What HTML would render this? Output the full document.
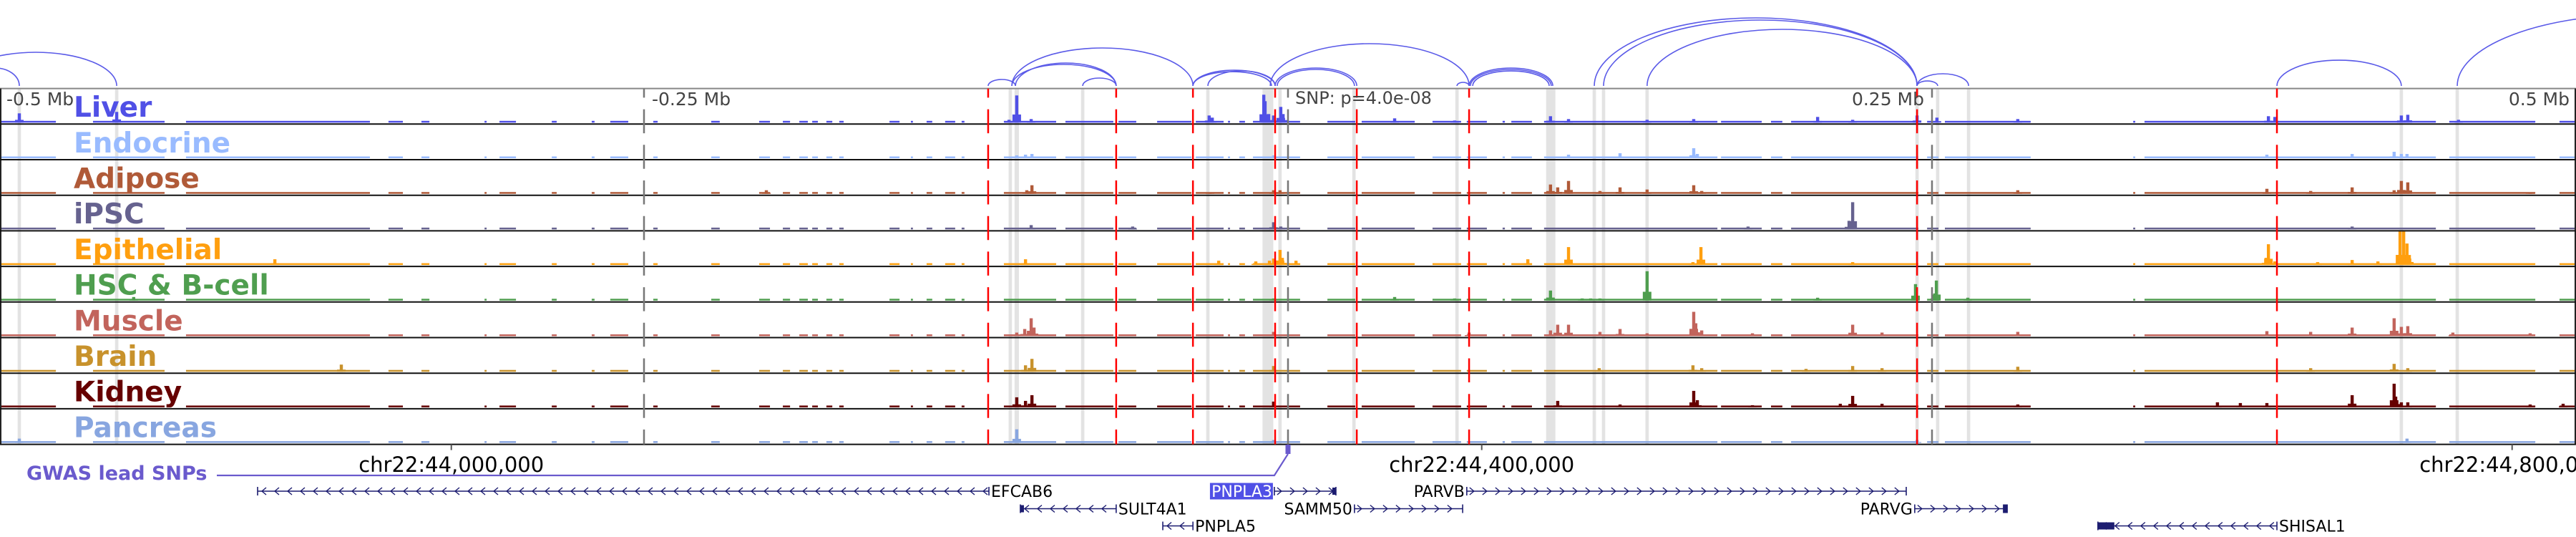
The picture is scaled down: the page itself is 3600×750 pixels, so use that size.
<!DOCTYPE html>
<html><head><meta charset="utf-8"><style>
html,body{margin:0;padding:0;background:#fff;}
svg{display:block;font-family:"DejaVu Sans","Liberation Sans",sans-serif;}
</style></head><body>
<svg id="chart" width="3600" height="750" viewBox="0 0 3600 750" xmlns="http://www.w3.org/2000/svg">
<rect x="0" y="0" width="3600" height="750" fill="#fff"/>
<g id="arcs"></g>
<g id="bands"></g>
<g id="signals"></g>
<g id="frame"></g>
<g id="vlines"></g>
<g id="labels"></g>
<g id="axis"></g>
<g id="genes"></g>
</svg>
<script>
// ---- data (positions in kb relative to lead SNP) ----
const trackNames = ["Liver","Endocrine","Adipose","iPSC","Epithelial","HSC & B-cell","Muscle","Brain","Kidney","Pancreas"];
const trackColors = ["#5050e6","#99bbff","#b05a38","#66628f","#ff9f0f","#4f9e4f","#c2645c","#c8922c","#660000","#88a6e0"];
const coverageStarts = [-500,-463.9,-427.8,-349.2,-336.4,-311.9,-306.1,-285.8,-270.3,-263.1,-246.4,-223.9,-205.3,-196.1,-189.7,-184.7,-179.2,-174.2,-154.7,-146.4,-140.3,-133.1,-126.7,-110.3,-86.4,-65.8,-50.8,-35.8,-23.3,-18.9,-13.6,0,15.3,28.6,56.1,69.4,83.3,86.7,99.4,168.1,187.5,195.3,248.1,255,328.1,332.5,450.8,493.6];
const coverageEnds   = [-478.3,-436.1,-356.4,-343.6,-333.3,-311.1,-299.7,-283.9,-269.2,-256.1,-244.7,-220.6,-201.1,-193.3,-186.4,-182.5,-176.9,-172.5,-150.8,-145.6,-138.1,-129.2,-125.6,-90,-67.8,-58.9,-37.5,-25,-22.5,-16.7,0,4.7,26.1,49.2,67.2,77.2,84.2,94.7,166.7,183.9,191.9,244.7,252.5,288.3,328.9,445.6,484.2,500];
const liverPeaks = [[-492.5,13],[-454.7,15],[-108.3,4],[-105.3,38],[-99.7,5],[-30.6,10],[-29.4,7],[-9.4,39],[-8.9,30],[-7.5,12],[-5.6,10],[-2.8,22],[-1.9,12],[41.4,6],[64.7,3],[101.9,9],[108.9,5],[139.4,4],[157.5,5],[205.6,8],[219.2,4],[244.2,10],[251.9,7],[283.3,5],[380.6,9],[383.1,8],[432.2,10],[434.7,11],[454.4,4]];
const endocrinePeaks = [[-105.3,4],[-101.9,5],[-99.4,6],[-5.6,4],[108.9,5],[128.9,7],[157.5,14],[158.9,6],[380,5],[413.1,6],[429.4,9],[432.2,6],[434.4,6]];
const adiposePeaks = [[-202.5,5],[-101.4,5],[-99.4,12],[-30.3,2],[-5.6,5],[-3.1,5],[101.9,13],[104.7,9],[108.9,18],[121.1,4],[128.9,9],[139.4,6],[157.5,12],[160.6,4],[283.3,5],[380,7],[397,4],[413.1,9],[429.4,5],[432.2,18],[434.7,16],[482.2,2]];
const ipscPeaks = [[-99.7,6],[-60.3,4],[-5.6,10],[-2.8,4],[178.6,4],[217.8,12],[219.2,38],[413.1,4]];
const epithelialPeaks = [[-393.3,8],[-101.9,8],[-26.9,6],[-12.5,5],[-7.2,6],[-5.6,9],[-3.1,21],[-2.2,10],[3.1,6],[93.1,8],[108.9,25],[157.2,4],[160.3,25],[219.2,4],[379.7,10],[380.6,29],[383.1,5],[399.7,4],[413.1,7],[423.1,5],[431.7,47],[433.1,47],[434.4,30],[435.3,14]];
const hscPeaks = [[-448.1,5],[-5.6,3],[41.4,5],[64.7,3],[101.9,14],[114.2,3],[117.5,3],[121.1,3],[139.4,41],[205.6,4],[243.6,23],[251.1,10],[251.7,28],[263.9,4]];
const musclePeaks = [[-105.3,5],[-102.2,10],[-99.7,25],[-98.6,12],[-5.6,6],[70.3,5],[101.9,8],[104.7,16],[108.9,16],[121.1,6],[128.9,10],[139.4,4],[157.5,34],[158.3,18],[160.6,8],[180.3,4],[219.2,16],[230.6,5],[283.3,6],[380,7],[397,6],[413.1,12],[429.4,25],[432.2,13],[434.7,14],[452.2,5],[482.2,4]];
const brainPeaks = [[-367.5,10],[-101.9,9],[-99.4,18],[-5.6,8],[120.8,5],[157.2,9],[160.6,5],[201.1,4],[219.2,8],[230.6,5],[283.3,7],[397,5],[429.4,11],[434.7,5]];
const kidneyPeaks = [[-105.3,14],[-101.9,9],[-99.4,17],[-5.6,8],[104.7,9],[128.9,4],[157.5,23],[158.9,10],[180.3,3],[214.4,5],[219.2,16],[230.6,5],[283.3,4],[360.8,7],[369.7,6],[380,6],[413.1,17],[429.4,33],[430,15],[432.2,7],[434.7,7],[482.2,4],[495,5]];
const pancreasPeaks = [[-492.5,6],[-105.3,19],[-5.6,4],[244.2,4],[434.4,6]];
const trackPeaks = [liverPeaks,endocrinePeaks,adiposePeaks,ipscPeaks,epithelialPeaks,hscPeaks,musclePeaks,brainPeaks,kidneyPeaks,pancreasPeaks];
const bandCenters = [-492.5,-454.7,-107.8,-105.3,-79.7,-31.1,-7.8,-3.1,25.6,65.6,102,118.9,122.5,139.4,244.2,252.2,264.2,432.2,453.9];
const bandWidthsKb = [1.3,1.3,1.3,1.7,1.3,1.3,4.2,1.3,1.3,1.3,3.6,1.3,1.3,1.3,1.3,1.3,1.3,1.3,1.3];
const redLineKb = [-116.4,-66.7,-36.9,-5,26.7,70.3,244.2,383.9];
const refLineKb = [-250,0,250];
const arcStarts = [-517.5,-511,-116.4,-105.8,-107.2,-107.2,-79.7,-36.9,-31.1,-36.9,-5,-4.2,-6.9,65.6,70.3,70.8,71.7,118.9,122.5,139.4,244.2,244.2,383.9,453.9];
const arcEnds   = [-454.7,-492.5,-105.8,-66.7,-66.7,-36.9,-66.7,-5,-5,-6.4,26.7,25.8,70.3,70.3,102.8,102.2,101.4,244.2,244.2,244.2,252.2,264.2,432.2,597];
const arcHeights = [47,25,9,32,30,53,11,22,21,20,25,23,59,5,25,23,21,95,92,79,7,17,36,100];
const geneNames = ["EFCAB6","SULT4A1","PNPLA5","PNPLA3","SAMM50","PARVB","PARVG","SHISAL1"];
const geneStarts = [-400,-103.9,-48.6,-5.3,25.8,69.4,243.3,314.4];
const geneEnds = [-116.1,-66.7,-36.9,18.6,67.8,240,279.2,383.9];
const geneStrands = [-1,-1,-1,1,1,1,1,-1];
const geneRows = [0,1,2,0,1,0,1,2];
const axisTickKb = [-324.8,75.2,475.2];
const axisTickLabels = ["chr22:44,000,000","chr22:44,400,000","chr22:44,800,000"];
const mbLabels = ["-0.5 Mb","-0.25 Mb","0.25 Mb","0.5 Mb"];
const mbLabelKb = [-500,-250,250,500];

// ---- scales ----
const NS="http://www.w3.org/2000/svg";
const xScale = kb => 1800 + kb*3.6;
const TOP=123.6, TH=49.7, NT=10, BOTTOM=TOP+TH*NT;
const baseY = i => TOP + TH*(i+1) - 2;
const yScale = v => v*1.0;
function mk(tag, attrs, parent){const e=document.createElementNS(NS,tag);for(const k in attrs)e.setAttribute(k,attrs[k]);parent.appendChild(e);return e;}
const G = id => document.getElementById(id);

// arcs
for(let i=0;i<arcStarts.length;i++){
  const x1=xScale(arcStarts[i]), x2=xScale(arcEnds[i]), y=120;
  const a=Math.min(x1,x2), b=Math.max(x1,x2), rx=(b-a)/2, ry=arcHeights[i];
  const p=mk('path',{d:`M${a},${y} A${rx},${ry} 0 0 1 ${b},${y}`,fill:'none',stroke:'#5a5ae8','stroke-width':1.6},G('arcs'));
  
  
}
// bands
for(let i=0;i<bandCenters.length;i++){
  const w=bandWidthsKb[i]*3.6;
  const r=mk('rect',{x:xScale(bandCenters[i])-w/2,y:TOP,width:w,height:BOTTOM-TOP,fill:'#e3e3e3'},G('bands'));
  
  
}
// signals
for(let t=0;t<NT;t++){
  const g=mk('g',{},G('signals'));
  
  
  const by=baseY(t), col=trackColors[t];
  for(let c=0;c<coverageStarts.length;c++){
    const x1=xScale(coverageStarts[c]), x2=xScale(coverageEnds[c]);
    const r=mk('rect',{x:x1,y:by-2.5,width:Math.max(1,x2-x1),height:2.5,fill:col},g);
    
    
  }
  trackPeaks[t].forEach(p=>{
    const h=yScale(p[1]);
    const sh=mk('rect',{x:xScale(p[0])-6,y:by-h*0.3,width:12,height:h*0.3,fill:col},g);
    
    
    const r=mk('rect',{x:xScale(p[0])-2.2,y:by-h,width:4.4,height:h,fill:col},g);
    
    
  });
}
// frame
const fr=G('frame');
mk('line',{x1:0,y1:TOP,x2:3600,y2:TOP,stroke:'#888','stroke-width':2},fr);
mk('line',{x1:1,y1:TOP,x2:1,y2:BOTTOM,stroke:'#222','stroke-width':2},fr);
mk('line',{x1:3599,y1:TOP,x2:3599,y2:BOTTOM,stroke:'#222','stroke-width':2},fr);
for(let t=0;t<NT;t++){
  const y=TOP+TH*(t+1);
  const l=mk('line',{x1:0,y1:y,x2:3600,y2:y,stroke:'#111','stroke-width':2},fr);
  
  
}
// dashed lines
refLineKb.forEach(k=>{
  const l=mk('line',{x1:xScale(k),y1:TOP,x2:xScale(k),y2:BOTTOM,stroke:'#777','stroke-width':2.5,'stroke-dasharray':'33.5 16.2','stroke-dashoffset':20.7},G('vlines'));
  
  
});
redLineKb.forEach(k=>{
  const l=mk('line',{x1:xScale(k),y1:TOP,x2:xScale(k),y2:BOTTOM,stroke:'#ff0000','stroke-width':2.5,'stroke-dasharray':'33.5 16.2','stroke-dashoffset':20.7},G('vlines'));
  
  
});
// labels
for(let t=0;t<NT;t++){
  const tx=mk('text',{x:103,y:TOP+TH*t+39.5,fill:trackColors[t],'font-size':39,'font-weight':'bold'},G('labels'));
  tx.textContent=trackNames[t];
  
  
}
mbLabels.forEach((s,i)=>{
  const k=mbLabelKb[i];
  let x, anchor;
  if(k<0){x=xScale(k)+(k===-500?9:11);anchor='start';}else{x=xScale(k)-(k===500?9:11);anchor='end';}
  const tx=mk('text',{x:x,y:147,fill:'#444','font-size':25,'text-anchor':anchor},G('labels'));
  tx.textContent=s;
  
  
});
const snp=mk('text',{x:1810,y:145,fill:'#444','font-size':24},G('labels'));
snp.textContent='SNP: p=4.0e-08';


// axis
axisTickKb.forEach((k,i)=>{
  const x=xScale(k);
  mk('line',{x1:x,y1:BOTTOM,x2:x,y2:BOTTOM+8,stroke:'#555','stroke-width':2},G('axis'));
  const tx=mk('text',{x:x,y:659,fill:'#000','font-size':29,'text-anchor':'middle'},G('axis'));
  tx.textContent=axisTickLabels[i];
  
  
});
const gw=mk('text',{x:37,y:670,fill:'#6a5acd','font-size':27,'font-weight':'bold'},G('axis'));
gw.textContent='GWAS lead SNPs';


mk('polyline',{points:`303,664 ${xScale(-5.3)},664 ${xScale(0)},634`,fill:'none',stroke:'#6a5acd','stroke-width':2.2},G('axis'));
const gm=mk('rect',{x:xScale(0)-3.5,y:621,width:7,height:13,fill:'#6a5acd'},G('axis'));


// genes
const rowY=[686,710.5,734.5];
for(let i=0;i<geneNames.length;i++){
  const g=mk('g',{},G('genes'));
  
  
  const x1=xScale(geneStarts[i]), x2=xScale(geneEnds[i]), y=rowY[geneRows[i]], s=geneStrands[i];
  mk('line',{x1:x1,y1:y,x2:x2,y2:y,stroke:'#1c1c70','stroke-width':1.6},g);
  let d='';
  for(let x=x1+8;x<x2-4;x+=18){ d+= s<0?`M${x+4},${y-5} L${x-2},${y} L${x+4},${y+5} `:`M${x-4},${y-5} L${x+2},${y} L${x-4},${y+5} `; }
  mk('path',{d:d,fill:'none',stroke:'#1c1c70','stroke-width':1.4},g);
  mk('line',{x1:x1,y1:y-6,x2:x1,y2:y+6,stroke:'#1c1c70','stroke-width':1.6},g);
  mk('line',{x1:x2,y1:y-6,x2:x2,y2:y+6,stroke:'#1c1c70','stroke-width':1.6},g);
  if(geneNames[i]==='SULT4A1') mk('rect',{x:x1,y:y-5,width:5,height:10,fill:'#1c1c70'},g);
  if(geneNames[i]==='PNPLA3') mk('rect',{x:x2-5,y:y-5,width:5,height:10,fill:'#1c1c70'},g);
  if(geneNames[i]==='PARVG') mk('rect',{x:x2-6,y:y-6,width:6,height:12,fill:'#1c1c70'},g);
  if(geneNames[i]==='SHISAL1') mk('rect',{x:x1,y:y-5,width:23,height:10,fill:'#1c1c70'},g);
  if(geneNames[i]==='PNPLA3'){
    mk('rect',{x:x1-90,y:y-11.5,width:88,height:23,fill:'#5050e6'},g);
    const tx=mk('text',{x:x1-3,y:y+8,fill:'#fff','font-size':22,'text-anchor':'end'},g);
    tx.textContent=geneNames[i];
  } else {
    const tx=mk('text',{x:s<0?x2+3:x1-3,y:y+8,fill:'#000','font-size':22,'text-anchor':s<0?'start':'end'},g);
    tx.textContent=geneNames[i];
  }
}
</script>
</body></html>
